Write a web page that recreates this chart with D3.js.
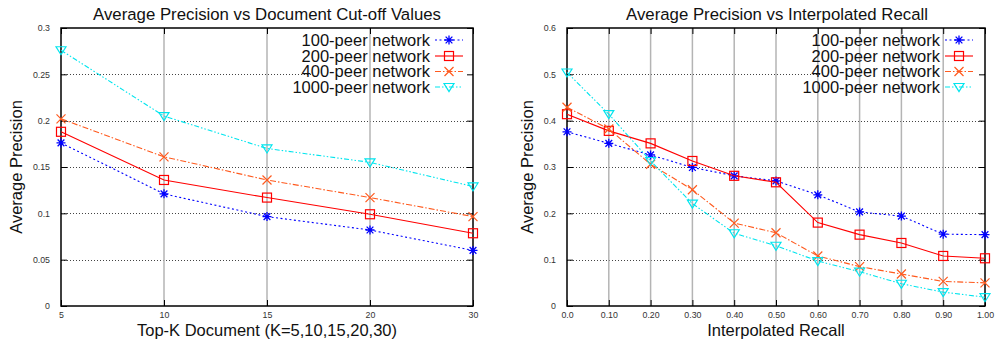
<!DOCTYPE html>
<html><head><meta charset="utf-8">
<script src="https://cdn.jsdelivr.net/npm/d3@7/dist/d3.min.js"></script>
<style>
html,body{margin:0;padding:0;background:#fff;}
svg{display:block;font-family:"Liberation Sans",Arial,Helvetica,sans-serif;}
</style></head>
<body><svg id="chart" width="999" height="343"></svg>
<script>
// ---------- data ----------
const seriesNames = ["100-peer network","200-peer network","400-peer network","1000-peer network"];

const leftCategories = ["5","10","15","20","30"];
const leftYTicks = [0,0.05,0.1,0.15,0.2,0.25,0.3];
const left100 = [0.176,0.121,0.0965,0.082,0.060];
const left200 = [0.188,0.136,0.117,0.099,0.0785];
const left400 = [0.202,0.161,0.136,0.117,0.0965];
const left1000 = [0.276,0.205,0.170,0.155,0.129];

const rightCategories = ["0.0","0.10","0.20","0.30","0.40","0.50","0.60","0.70","0.80","0.90","1.00"];
const rightYTicks = [0,0.1,0.2,0.3,0.4,0.5,0.6];
const right100 = [0.376,0.351,0.326,0.299,0.281,0.270,0.240,0.203,0.194,0.155,0.154];
const right200 = [0.414,0.378,0.351,0.313,0.281,0.267,0.180,0.154,0.136,0.108,0.103];
const right400 = [0.429,0.382,0.306,0.251,0.179,0.158,0.108,0.085,0.069,0.053,0.050];
const right1000 = [0.504,0.414,0.313,0.221,0.157,0.130,0.097,0.074,0.048,0.030,0.019];

// ---------- styles ----------
const styles = [
  {color:"#0000ff", dash:"2,2.5", marker:"star"},
  {color:"#ff0000", dash:null, marker:"square"},
  {color:"#ff5a1e", dash:"6,2,1.5,2", marker:"x"},
  {color:"#00e5ee", dash:"5,2,1.5,2,1.5,2", marker:"tri"}
];

const svg = d3.select("#chart");

function marker(g, type, x, y, color){
  const s = 4.5;
  if(type==="star"){
    const p = d3.path();
    p.moveTo(x-s,y); p.lineTo(x+s,y);
    p.moveTo(x,y-s); p.lineTo(x,y+s);
    p.moveTo(x-s*0.75,y-s*0.75); p.lineTo(x+s*0.75,y+s*0.75);
    p.moveTo(x-s*0.75,y+s*0.75); p.lineTo(x+s*0.75,y-s*0.75);
    g.append("path").attr("d",p.toString()).attr("stroke",color).attr("stroke-width",1.3).attr("fill","none");
  } else if(type==="square"){
    g.append("rect").attr("x",x-s).attr("y",y-s).attr("width",2*s).attr("height",2*s)
      .attr("fill","none").attr("stroke",color).attr("stroke-width",1.2);
  } else if(type==="x"){
    const p = d3.path();
    p.moveTo(x-s,y-s); p.lineTo(x+s,y+s);
    p.moveTo(x-s,y+s); p.lineTo(x+s,y-s);
    g.append("path").attr("d",p.toString()).attr("stroke",color).attr("stroke-width",1.2).attr("fill","none");
  } else if(type==="tri"){
    const p = d3.path();
    p.moveTo(x-s-0.5,y-s+1); p.lineTo(x+s+0.5,y-s+1); p.lineTo(x,y+s); p.closePath();
    g.append("path").attr("d",p.toString()).attr("stroke",color).attr("stroke-width",1.2).attr("fill","none");
  }
}

function drawChart(cfg){
  const g = svg.append("g");
  const x = d3.scalePoint().domain(cfg.categories).range([cfg.left,cfg.right]).padding(0);
  const y = d3.scaleLinear().domain([cfg.yTicks[0], cfg.yTicks[cfg.yTicks.length-1]]).range([cfg.bottom,cfg.top]);

  // horizontal grid (dotted)
  g.append("g").selectAll("line").data(cfg.yTicks.slice(1,-1)).join("line")
    .attr("x1",cfg.left).attr("x2",cfg.right)
    .attr("y1",d=>Math.round(y(d))+0.5).attr("y2",d=>Math.round(y(d))+0.5)
    .attr("stroke","#444").attr("stroke-width",1).attr("stroke-dasharray","1,2");

  // legend opaque box
  g.append("rect").attr("x",cfg.legBoxX).attr("y",cfg.top+2).attr("width",cfg.right-2-cfg.legBoxX).attr("height",66)
    .attr("fill","#fff");

  // vertical grid (solid gray)
  g.append("g").selectAll("line").data(cfg.categories.slice(1,-1)).join("line")
    .attr("x1",d=>x(d)).attr("x2",d=>x(d))
    .attr("y1",cfg.top).attr("y2",cfg.bottom)
    .attr("stroke","#b4b4b4").attr("stroke-width",1.5);

  // axes via d3
  const yAxisL = d3.axisLeft(y).tickValues(cfg.yTicks).tickSize(-6).tickPadding(11).tickFormat(d=>String(+d.toFixed(2)));
  const yAxisR = d3.axisRight(y).tickValues(cfg.yTicks).tickSize(-6).tickFormat("");
  const xAxisB = d3.axisBottom(x).tickSize(-6).tickPadding(6);
  const xAxisT = d3.axisTop(x).tickSize(-6).tickFormat("");
  const axStyle = sel=>{
    sel.select(".domain").remove();
    sel.selectAll(".tick line").attr("stroke","#000").attr("stroke-width",1);
    sel.selectAll(".tick text").attr("fill","#333").attr("font-size",8.8)
      .attr("font-family","'Liberation Sans',Arial,sans-serif");
  };
  g.append("g").attr("transform",`translate(${cfg.left},0)`).call(yAxisL).call(axStyle);
  g.append("g").attr("transform",`translate(${cfg.right},0)`).call(yAxisR).call(axStyle);
  g.append("g").attr("transform",`translate(0,${cfg.bottom})`).call(xAxisB).call(axStyle);
  g.append("g").attr("transform",`translate(0,${cfg.top})`).call(xAxisT).call(axStyle);

  // frame
  g.append("rect").attr("x",cfg.left).attr("y",cfg.top).attr("width",cfg.right-cfg.left).attr("height",cfg.bottom-cfg.top)
    .attr("fill","none").attr("stroke","#000").attr("stroke-width",1.5);

  // series
  cfg.series.forEach((vals,i)=>{
    const st = styles[i];
    const line = d3.line().x((d,j)=>x(cfg.categories[j])).y(d=>y(d));
    g.append("path").datum(vals).attr("d",line).attr("fill","none")
      .attr("stroke",st.color).attr("stroke-width",1.1)
      .attr("stroke-dasharray",st.dash);
    vals.forEach((v,j)=>marker(g,st.marker,x(cfg.categories[j]),y(v),st.color));
  });

  // legend
  const rowY = [40,56,71.5,87];
  seriesNames.forEach((n,i)=>{
    const st = styles[i];
    g.append("text").attr("x",cfg.legTextX).attr("y",rowY[i]).attr("dy","0.36em")
      .attr("text-anchor","end").attr("font-size",16.5).attr("fill","#111").text(n);
    g.append("line").attr("x1",cfg.legTextX+5).attr("x2",cfg.legTextX+33)
      .attr("y1",rowY[i]).attr("y2",rowY[i]).attr("stroke",st.color).attr("stroke-width",1.1)
      .attr("stroke-dasharray",st.dash);
    marker(g,st.marker,cfg.legTextX+19,rowY[i],st.color);
  });

  // title & labels
  g.append("text").attr("x",cfg.titleX).attr("y",20).attr("text-anchor","middle")
    .attr("font-size",16.8).attr("fill","#111").text(cfg.title);
  g.append("text").attr("x",(cfg.left+cfg.right)/2).attr("y",336).attr("text-anchor","middle")
    .attr("font-size",16.5).attr("fill","#111").text(cfg.xLabel);
  g.append("text").attr("transform",`translate(${cfg.yLabelX},${(cfg.top+cfg.bottom)/2}) rotate(-90)`)
    .attr("text-anchor","middle").attr("font-size",16.5).attr("fill","#111").text("Average Precision");
}

drawChart({
  categories:leftCategories, yTicks:leftYTicks,
  series:[left100,left200,left400,left1000],
  left:61, right:473, top:28, bottom:306,
  legTextX:430, legBoxX:312,
  title:"Average Precision vs Document Cut-off Values", titleX:267,
  xLabel:"Top-K Document (K=5,10,15,20,30)", yLabelX:22
});
drawChart({
  categories:rightCategories, yTicks:rightYTicks,
  series:[right100,right200,right400,right1000],
  left:567, right:985, top:28, bottom:306,
  legTextX:940, legBoxX:822,
  title:"Average Precision vs Interpolated Recall", titleX:777,
  xLabel:"Interpolated Recall", yLabelX:533
});
</script></body></html>
